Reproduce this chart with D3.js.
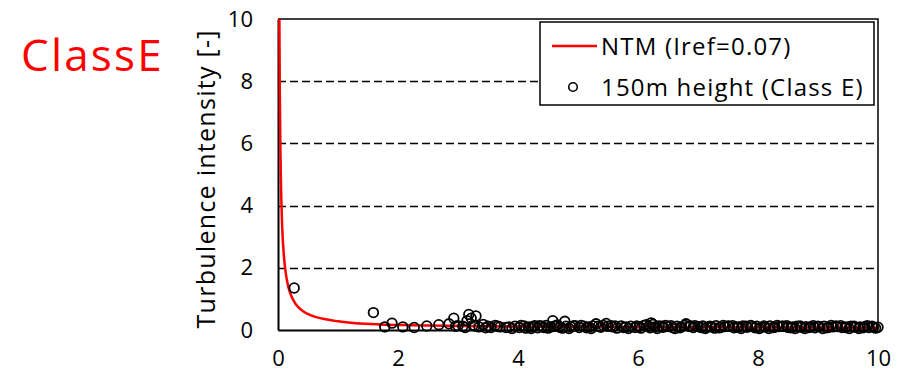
<!DOCTYPE html>
<html><head><meta charset="utf-8">
<script src="https://cdn.jsdelivr.net/npm/d3@7"></script>
<style>html,body{margin:0;padding:0;background:#fff;}svg{display:block;}</style>
</head><body>
<svg id="c" width="912" height="374"></svg>
<script>
// NTM reference curve
const ntmSpeed = [0.023,0.03,0.04,0.05,0.07,0.1,0.13,0.17,0.22,0.3,0.4,0.55,0.75,1.0,1.3,1.7,2.2,2.8,3.5,4.5,5.5,6.5,7.5,8.5,10];
const ntmTI    = [10,7.7,5.8,4.65,3.3,2.35,1.82,1.4,1.1,0.82,0.63,0.47,0.36,0.28,0.22,0.18,0.155,0.135,0.12,0.105,0.095,0.09,0.085,0.08,0.075];

// Observations 150 m height (Class E)
const obsSpeed = [0.27,1.59,1.78,1.9,2.08,2.27,2.48,2.68,2.85,2.93,3.0,3.08,3.15,3.18,3.22,3.3,3.25,3.35,3.42,3.5,3.55,3.62,3.7,
 3.85,3.95,4.02,4.1,4.18,4.25,4.33,4.4,4.47,4.55,4.58,4.63,4.7,4.78,4.8,4.88,4.95,5.02,5.1,5.18,5.25,5.3,5.38,5.47,5.5,5.58,5.65,5.72,5.8,5.88,5.95,
 6.02,6.1,6.18,6.22,6.28,6.35,6.42,6.5,6.58,6.65,6.72,6.8,6.85,6.92,7.0,7.08,7.15,7.22,7.3,7.38,7.45,7.52,7.6,7.68,7.75,7.82,7.9,7.98,
 8.05,8.12,8.2,8.28,8.35,8.42,8.5,8.58,8.65,8.72,8.8,8.88,8.95,9.02,9.1,9.18,9.25,9.32,9.4,9.48,9.55,9.62,9.7,9.78,9.85,9.92,10.0,
 3.9,4.05,4.22,4.36,4.5,4.66,4.85,5.05,5.22,5.42,5.62,5.84,6.05,6.14,6.25,6.32,6.46,6.62,6.78,6.95,7.12,7.28,7.42,7.58,7.72,7.88,
 8.02,8.18,8.32,8.48,8.62,8.78,8.92,9.08,9.22,9.38,9.52,9.68,9.82,9.96,
 2.96,3.12,3.28,3.46,3.66,3.8,4.13,4.28,4.43,4.6,4.74,4.92,5.14,5.34,5.55,5.76,5.98,6.2,6.4,6.55,6.7,6.88,7.05,7.2,7.35,7.5,7.65,
 7.8,7.95,8.1,8.25,8.4,8.55,8.7,8.85,9.0,9.15,9.3,9.45,9.6,9.75,9.9];
const obsTI = [1.35,0.56,0.1,0.22,0.1,0.08,0.13,0.17,0.2,0.38,0.14,0.12,0.3,0.5,0.38,0.45,0.15,0.1,0.18,0.12,0.08,0.15,0.1,
 0.1,0.12,0.08,0.13,0.1,0.11,0.07,0.12,0.15,0.1,0.3,0.13,0.09,0.28,0.12,0.1,0.14,0.08,0.12,0.1,0.13,0.2,0.09,0.21,0.12,0.1,0.06,0.13,0.1,0.12,0.08,
 0.11,0.15,0.12,0.23,0.1,0.13,0.09,0.11,0.07,0.12,0.1,0.2,0.12,0.08,0.11,0.13,0.09,0.1,0.14,0.08,0.11,0.12,0.07,0.1,0.13,0.09,0.11,0.12,
 0.08,0.1,0.13,0.09,0.11,0.12,0.08,0.1,0.12,0.09,0.11,0.1,0.07,0.11,0.12,0.09,0.1,0.11,0.08,0.1,0.12,0.09,0.1,0.11,0.08,0.1,0.09,
 0.05,0.15,0.05,0.14,0.06,0.16,0.05,0.15,0.05,0.15,0.13,0.05,0.06,0.17,0.18,0.05,0.15,0.05,0.15,0.14,0.05,0.06,0.15,0.14,0.05,0.15,
 0.05,0.05,0.15,0.14,0.05,0.05,0.14,0.05,0.15,0.14,0.05,0.05,0.14,0.06,
 0.12,0.08,0.13,0.07,0.12,0.08,0.06,0.14,0.08,0.12,0.06,0.13,0.07,0.12,0.14,0.08,0.13,0.07,0.12,0.14,0.07,0.13,0.08,0.12,0.07,0.13,0.09,
 0.12,0.07,0.13,0.08,0.12,0.07,0.13,0.08,0.12,0.07,0.13,0.08,0.12,0.07,0.12];

const xTicks = [0,2,4,6,8,10];
const yTicks = [0,2,4,6,8,10];
const gridTicks = [2,4,6,8];
const titleText = "ClassE";
const yLabel = "Turbulence intensity [-]";
const legendLabels = ["NTM (Iref=0.07)", "150m height (Class E)"];

const svg = d3.select("#c");
const font = "'Open Sans', sans-serif";
const L = 278, R = 878, T = 19, B = 330;
const x = d3.scaleLinear().domain([0,10]).range([L,R]);
const y = d3.scaleLinear().domain([0,10]).range([B,T]);

// title
svg.append("text").attr("x",21).attr("y",71).attr("fill","#ff0000")
  .style("font-family",font).style("font-size","44px").style("letter-spacing","2.2px").text(titleText);

// gridlines
svg.append("g").selectAll("line").data(gridTicks).join("line")
  .attr("x1",L).attr("x2",R).attr("y1",d=>Math.round(y(d))+0.5).attr("y2",d=>Math.round(y(d))+0.5)
  .attr("stroke","#000").attr("stroke-width",1.6).attr("stroke-dasharray","8,4");

// plot frame (top & right)
svg.append("path").attr("d",`M${L},${T}H${R}V${B}`).attr("fill","none").attr("stroke","#000").attr("stroke-width",1.5);

// axes
const ya = svg.append("g").attr("transform",`translate(${L},0)`)
  .call(d3.axisLeft(y).tickValues(yTicks).tickSize(0).tickPadding(25));
const xa = svg.append("g").attr("transform",`translate(0,${B})`)
  .call(d3.axisBottom(x).tickValues(xTicks).tickSize(0).tickPadding(0));
[ya,xa].forEach(a=>{
  a.select(".domain").attr("stroke","#000").attr("stroke-width",2);
  a.selectAll("text").style("font-family",font).style("font-size","22px").attr("fill","#000");
});
xa.selectAll("text").attr("dy",null).attr("y",36);

// y label
svg.append("text").attr("transform",`translate(215,${(T+B)/2+5}) rotate(-90)`)
  .attr("text-anchor","middle").style("font-family",font).style("font-size","25px").attr("fill","#000")
  .attr("textLength",298).attr("lengthAdjust","spacing")
  .text(yLabel);

// NTM curve
const ntm = ntmSpeed.map((v,i)=>[v,ntmTI[i]]);
svg.append("path").datum(ntm)
  .attr("d",d3.line().x(d=>x(d[0])).y(d=>y(d[1])).curve(d3.curveMonotoneX))
  .attr("fill","none").attr("stroke","#ff0000").attr("stroke-width",2.5);

// observations
const obs = obsSpeed.map((v,i)=>[v,obsTI[i]]);
svg.append("g").selectAll("circle").data(obs).join("circle")
  .attr("cx",d=>x(d[0])).attr("cy",d=>y(d[1])).attr("r",4.8)
  .attr("fill","none").attr("stroke","#000").attr("stroke-width",1.8);

// legend
const lg = svg.append("g");
lg.append("rect").attr("x",540).attr("y",22).attr("width",334).attr("height",83)
  .attr("fill","#fff").attr("stroke","#000").attr("stroke-width",1.5);
lg.append("line").attr("x1",552).attr("x2",597).attr("y1",46).attr("y2",46).attr("stroke","#ff0000").attr("stroke-width",2.5);
lg.append("circle").attr("cx",573).attr("cy",87).attr("r",4.3).attr("fill","none").attr("stroke","#000").attr("stroke-width",1.6);
lg.selectAll("text.l").data(legendLabels).join("text").attr("class","l")
  .attr("x",601).attr("y",(d,i)=>55+i*41)
  .style("font-family",font).style("font-size","24px").style("letter-spacing","1.2px").attr("fill","#000").text(d=>d);
</script>
</body></html>
